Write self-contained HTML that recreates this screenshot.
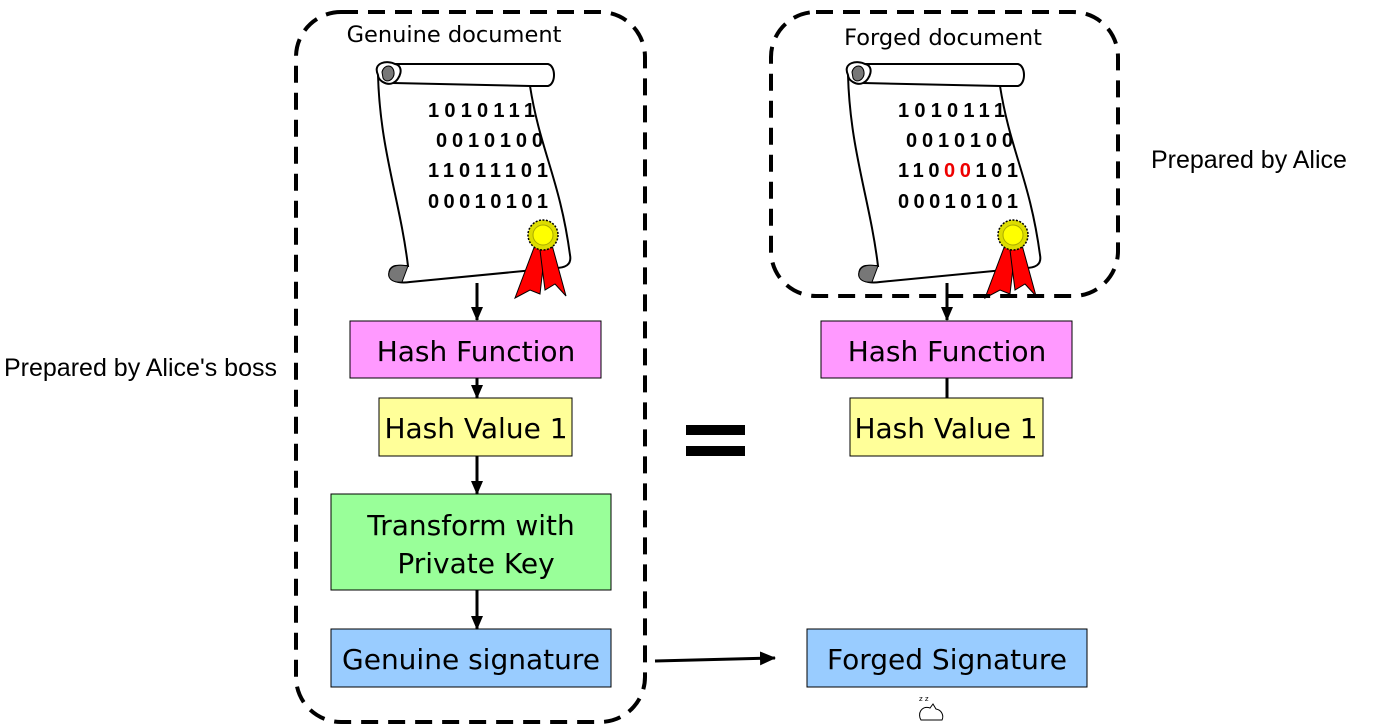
<!DOCTYPE html>
<html><head><meta charset="utf-8"><style>
html,body{margin:0;padding:0;background:#fff;}
svg{display:block;}
.bx{font-family:"DejaVu Sans",Verdana,sans-serif;font-size:28px;fill:#000;}
.bin{font-family:"Liberation Sans",Arial,sans-serif;font-weight:bold;font-size:20px;}
</style></head><body>
<svg width="1380" height="728" viewBox="0 0 1380 728" xmlns="http://www.w3.org/2000/svg">
<defs>
<marker id="ah" markerWidth="14" markerHeight="14" refX="13" refY="7" orient="auto" markerUnits="userSpaceOnUse">
<path d="M0,1 L14,7 L0,13 Z" fill="#000"/></marker>
<marker id="ah2" markerWidth="16" markerHeight="16" refX="15" refY="8" orient="auto" markerUnits="userSpaceOnUse">
<path d="M0,1 L16,8 L0,15 Z" fill="#000"/></marker>
<g id="scroll">
  <path d="M378,75 C372,62 388,60 395,64 L548,64 C556,66 556,84 548,86 L530,86 C540,150 560,180 570,255 C572,265 565,268 555,268 L410,282 C398,284 386,280 390,270 C393,264 400,266 408,266 C400,200 380,150 378,75 Z" fill="#fff" stroke="#000" stroke-width="2"/>
  <path d="M395,64 C405,66 400,80 393,83 C386,86 378,80 378,75" fill="none" stroke="#000" stroke-width="2"/>
  <path d="M382,72 C384,64 393,64 394,72 C395,80 386,84 383,78 Z" fill="#777" stroke="#000" stroke-width="1"/>
  <path d="M393,83 L530,86" fill="none" stroke="#000" stroke-width="2"/>
  <path d="M390,270 C386,278 392,283 402,282 L408,266 C398,264 392,266 390,270 Z" fill="#777" stroke="#000" stroke-width="1"/>
  <path d="M535,245 L515,298 L530,290 L540,294 L545,250 Z" fill="#f00" stroke="#000" stroke-width="1"/>
  <path d="M540,250 L545,290 L555,284 L566,296 L552,245 Z" fill="#f00" stroke="#000" stroke-width="1"/>
  <circle cx="543" cy="235" r="15" fill="#dd0" stroke="#000" stroke-width="1.5" stroke-dasharray="2,1.5"/>
  <circle cx="543" cy="235" r="10" fill="#ff0" stroke="#aa0" stroke-width="1"/>
</g>
</defs>

<rect x="296" y="12" width="349" height="710" rx="45" fill="none" stroke="#000" stroke-width="4" stroke-dasharray="17,10"/>

<use href="#scroll"/>
<use href="#scroll" transform="translate(470,0)"/>
<rect x="771" y="12" width="347" height="284" rx="45" fill="none" stroke="#000" stroke-width="4" stroke-dasharray="17,10"/>

<text x="454" y="42" text-anchor="middle" font-family="DejaVu Sans,Verdana,sans-serif" font-size="22.5">Genuine document</text>
<text x="943" y="45" text-anchor="middle" font-family="DejaVu Sans,Verdana,sans-serif" font-size="22.5">Forged document</text>

<g class="bin">
<text x="428" y="117" textLength="107">1010111</text>
<text x="436" y="147" textLength="107">0010100</text>
<text x="428" y="177" textLength="120">11011101</text>
<text x="428" y="208" textLength="120">00010101</text>
</g>
<g class="bin">
<text x="898" y="117" textLength="107">1010111</text>
<text x="906" y="147" textLength="107">0010100</text>
<text x="898" y="177" textLength="120">110<tspan fill="#e00">00</tspan>101</text>
<text x="898" y="208" textLength="120">00010101</text>
</g>

<rect x="350" y="321" width="251" height="57" fill="#ff99ff" stroke="#000" stroke-width="1"/>
<text class="bx" x="476" y="361" text-anchor="middle">Hash Function</text>
<rect x="379" y="398" width="193" height="58" fill="#ffff99" stroke="#000" stroke-width="1"/>
<text class="bx" x="476" y="438" text-anchor="middle">Hash Value 1</text>
<rect x="331" y="494" width="280" height="96" fill="#99ff99" stroke="#000" stroke-width="1"/>
<text class="bx" x="471" y="535" text-anchor="middle">Transform with</text>
<text class="bx" x="476" y="573" text-anchor="middle">Private Key</text>
<rect x="331" y="629" width="280" height="58" fill="#99ccff" stroke="#000" stroke-width="1"/>
<text class="bx" x="471" y="669" text-anchor="middle">Genuine signature</text>

<rect x="821" y="321" width="251" height="57" fill="#ff99ff" stroke="#000" stroke-width="1"/>
<text class="bx" x="947" y="361" text-anchor="middle">Hash Function</text>
<rect x="850" y="398" width="193" height="58" fill="#ffff99" stroke="#000" stroke-width="1"/>
<text class="bx" x="946" y="438" text-anchor="middle">Hash Value 1</text>
<rect x="807" y="629" width="280" height="58" fill="#99ccff" stroke="#000" stroke-width="1"/>
<text class="bx" x="947" y="669" text-anchor="middle">Forged Signature</text>

<g stroke="#000" stroke-width="3">
<line x1="477" y1="283" x2="477" y2="320" marker-end="url(#ah)"/>
<line x1="477" y1="378" x2="477" y2="398" marker-end="url(#ah)"/>
<line x1="477" y1="456" x2="477" y2="494" marker-end="url(#ah)"/>
<line x1="477" y1="590" x2="477" y2="629" marker-end="url(#ah)"/>
<line x1="947" y1="283" x2="947" y2="320" marker-end="url(#ah)"/>
<line x1="947" y1="378" x2="947" y2="398"/>
<line x1="655" y1="661" x2="775" y2="658" marker-end="url(#ah2)"/>
</g>

<rect x="686" y="425" width="59" height="10" fill="#000"/>
<rect x="686" y="446" width="59" height="10" fill="#000"/>

<text x="4" y="376" font-family="Liberation Sans,Arial,sans-serif" font-size="25">Prepared by Alice's boss</text>
<text x="1151" y="168" font-family="Liberation Sans,Arial,sans-serif" font-size="25">Prepared by Alice</text>

<text x="919" y="701" font-family="DejaVu Sans,sans-serif" font-size="7">z z</text>
<path d="M920,718 C918,710 924,706 930,708 L933,704 L936,709 C942,710 944,716 942,720 L921,720 Z" fill="#fff" stroke="#000" stroke-width="1"/>
</svg>
</body></html>
